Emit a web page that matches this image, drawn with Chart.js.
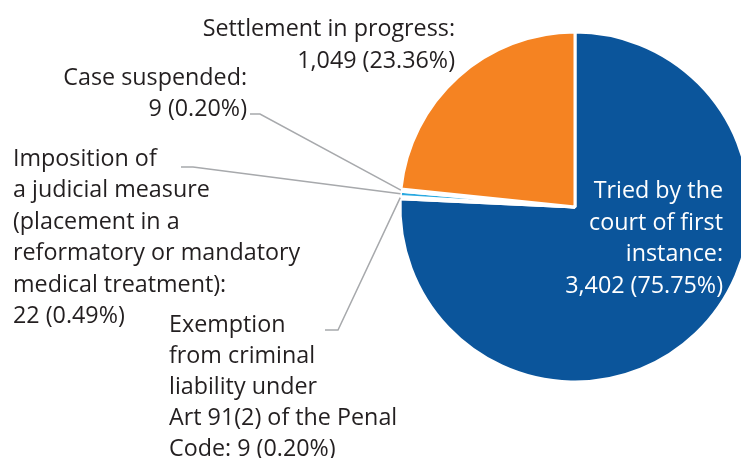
<!DOCTYPE html>
<html><head><meta charset="utf-8">
<script src="https://cdn.jsdelivr.net/npm/chart.js@4"></script>
<style>html,body{margin:0;padding:0;background:#fff;overflow:hidden}#wrap{width:800px;height:458px}</style>
</head><body><div id="wrap"><canvas id="c" width="800" height="458"></canvas></div>
<script>
// ---- data ----
const categories = [
  "Tried by the court of first instance",
  "Exemption from criminal liability under Art 91(2) of the Penal Code",
  "Imposition of a judicial measure (placement in a reformatory or mandatory medical treatment)",
  "Case suspended",
  "Settlement in progress"
];
const caseCounts = [3402, 9, 22, 9, 1049];
const sharePercent = [75.75, 0.20, 0.49, 0.20, 23.36];
const labelLines = [
  ["Tried by the", "court of first", "instance:", "{v}"],
  ["Exemption", "from criminal", "liability under", "Art 91(2) of the Penal", "Code: {v}"],
  ["Imposition of", "a judicial measure", "(placement in a", "reformatory or mandatory", "medical treatment):", "{v}"],
  ["Case suspended:", "{v}"],
  ["Settlement in progress:", "{v}"]
];
const sliceColors = ["#0b559b", "#29a9e1", "#29a9e1", "#29a9e1", "#f58322"];

// ---- label layout (style) ----
const FONT = '23.3px "Open Sans"';
const labelLayout = [
  {x: 723, y: 198, lh: 31.7, align: "right", color: "#ffffff"},
  {x: 169, y: 332, lh: 31, align: "left", color: "#231f20", leader: [[325, 330], [338, 330]]},
  {x: 13, y: 166, lh: 31.4, align: "left", color: "#231f20", leader: [[181, 167], [193, 167]]},
  {x: 247, y: 85, lh: 31, align: "right", color: "#231f20", leader: [[250, 114], [260, 114]]},
  {x: 455, y: 36, lh: 32, align: "right", color: "#231f20"}
];

function valueText(i) {
  return caseCounts[i].toLocaleString("en-US") + " (" + sharePercent[i].toFixed(2) + "%)";
}

const labelPlugin = {
  id: "pieLabels",
  afterDatasetsDraw(chart) {
    const ctx = chart.ctx;
    const meta = chart.getDatasetMeta(0);
    ctx.save();
    meta.data.forEach((arc, i) => {
      const L = labelLayout[i];
      const p = arc.getProps(["x", "y", "startAngle", "endAngle", "outerRadius"], true);
      if (L.leader) {
        const mid = (p.startAngle + p.endAngle) / 2;
        const ex = p.x + Math.cos(mid) * p.outerRadius;
        const ey = p.y + Math.sin(mid) * p.outerRadius;
        ctx.beginPath();
        ctx.strokeStyle = "#a7a9ac";
        ctx.lineWidth = 1.5;
        ctx.moveTo(L.leader[0][0], L.leader[0][1]);
        ctx.lineTo(L.leader[1][0], L.leader[1][1]);
        ctx.lineTo(ex, ey);
        ctx.stroke();
      }
      ctx.font = FONT;
      ctx.fillStyle = L.color;
      ctx.textAlign = L.align;
      ctx.textBaseline = "alphabetic";
      labelLines[i].forEach((ln, k) => {
        ctx.fillText(ln.replace("{v}", valueText(i)), L.x, L.y + k * L.lh);
      });
    });
    ctx.restore();
  }
};

new Chart(document.getElementById("c"), {
  type: "pie",
  data: {
    labels: categories,
    datasets: [{
      data: caseCounts,
      backgroundColor: sliceColors,
      borderColor: "#ffffff",
      borderWidth: 3,
      radius: 175,
      hoverOffset: 0
    }]
  },
  options: {
    responsive: false,
    animation: false,
    events: [],
    layout: {padding: {left: 400, right: 50, top: 32, bottom: 76}},
    plugins: {legend: {display: false}, tooltip: {enabled: false}}
  },
  plugins: [labelPlugin]
});
</script>
</body></html>
